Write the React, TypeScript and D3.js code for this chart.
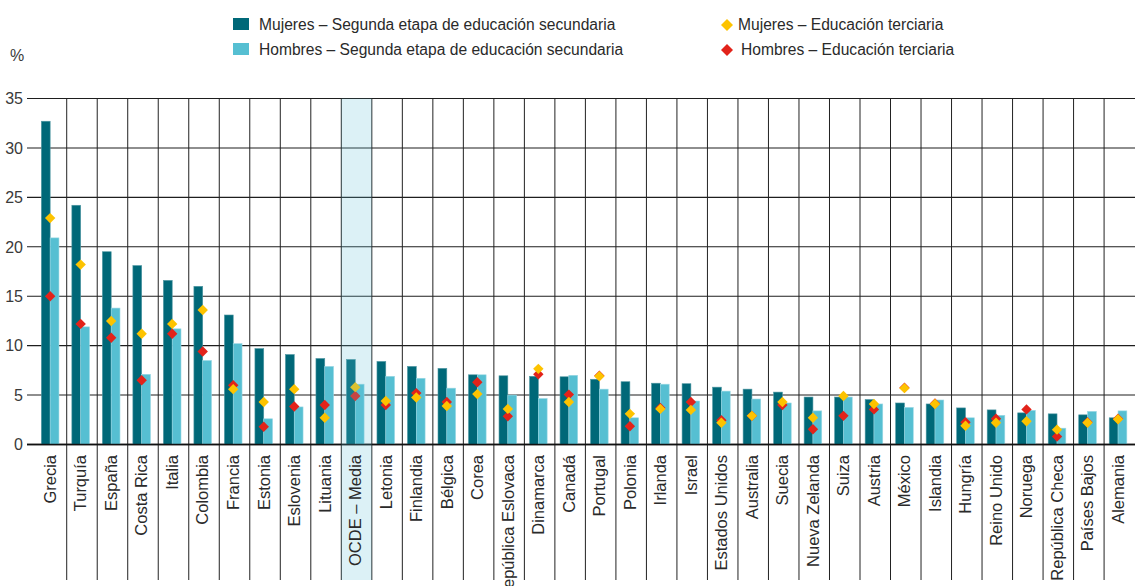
import React from "react";
import * as d3 from "d3";

const categories = ["Grecia","Turquía","España","Costa Rica","Italia","Colombia","Francia","Estonia","Eslovenia","Lituania","OCDE – Media","Letonia","Finlandia","Bélgica","Corea","República Eslovaca","Dinamarca","Canadá","Portugal","Polonia","Irlanda","Israel","Estados Unidos","Australia","Suecia","Nueva Zelanda","Suiza","Austria","México","Islandia","Hungría","Reino Unido","Noruega","República Checa","Países Bajos","Alemania"];

const mujeresSecundaria = [32.7,24.2,19.5,18.1,16.6,16.0,13.1,9.7,9.1,8.7,8.6,8.4,7.9,7.7,7.05,6.95,6.9,6.85,6.6,6.35,6.2,6.15,5.8,5.6,5.3,4.8,4.8,4.55,4.2,4.1,3.7,3.5,3.2,3.1,3.0,2.7];
const hombresSecundaria = [20.9,11.9,13.8,7.1,11.7,8.5,10.2,2.6,3.8,7.9,6.1,6.9,6.7,5.7,7.05,5.0,4.65,7.0,5.6,2.7,6.1,4.4,5.4,4.6,4.2,3.4,4.8,4.1,3.75,4.5,2.7,2.95,3.45,1.65,3.35,3.4];
const mujeresTerciaria = [22.9,18.2,12.5,11.2,12.2,13.6,5.6,4.3,5.6,2.7,5.8,4.4,4.75,3.9,5.1,3.6,7.65,4.3,6.9,3.1,3.6,3.5,2.2,2.9,4.3,2.7,4.9,4.1,5.7,4.1,1.9,2.2,2.35,1.5,2.2,2.55];
const hombresTerciaria = [15.0,12.2,10.8,6.5,11.2,9.4,6.0,1.8,3.85,4.0,4.9,4.0,5.2,4.3,6.3,2.85,7.1,5.05,6.95,1.85,3.7,4.3,2.45,2.9,4.0,1.55,2.9,3.55,5.75,4.15,2.25,2.6,3.55,0.8,2.25,2.6];
const yTicks = [0,5,10,15,20,25,30,35];
const highlight = "OCDE – Media";

const legendItems = [
  { label: "Mujeres – Segunda etapa de educación secundaria", kind: "rect", color: "#006878" },
  { label: "Hombres – Segunda etapa de educación secundaria", kind: "rect", color: "#56bfd2" },
  { label: "Mujeres – Educación terciaria", kind: "diamond", color: "#fdc300" },
  { label: "Hombres – Educación terciaria", kind: "diamond", color: "#e2231a" },
];

const W = 1135, H = 586;
const FONT = "'Liberation Sans', Arial, sans-serif";
const NARROW = "'Liberation Sans Narrow', 'Liberation Sans', Arial, sans-serif";
const TEXT = "#2a2a2a";

export default function App() {
  const x = d3.scaleBand<string>().domain(categories).range([36.2, 1134.6]).padding(0);
  const y = d3.scaleLinear().domain([0, 35]).range([444.5, 98.5]);
  const bw = x.bandwidth();
  const gc = (c: string) => (x(c) as number) + bw / 2 - 1.3;
  const barW = 8.8;
  const diamond = (r: number) => `M0,${-r}L${r},0L0,${r}L${-r},0Z`;
  const bottom = 580;

  return (
    <div style={{ position: "absolute", left: 0, top: 0 }}>
      <svg width={W} height={H} style={{ display: "block", background: "#fff" }}>
        {yTicks.map((t) => (
          <g key={t}>
            <line x1={27} x2={W} y1={y(t)} y2={y(t)} stroke="#1e1e1e" strokeWidth={t === 0 ? 1.4 : 1.1} />
            <text x={23} y={y(t)} dy="0.36em" textAnchor="end" fontFamily={NARROW} fontSize={16} fill="#3a3a3a">{t}</text>
          </g>
        ))}
        <text x={10} y={61} fontFamily={NARROW} fontSize={16} fill="#3a3a3a">%</text>

        {categories.slice(1).map((c) => (
          <line key={c} x1={x(c) as number} x2={x(c) as number} y1={y(35)} y2={bottom} stroke="#222" strokeWidth={1} />
        ))}

        {categories.map((c, i) => (
          <g key={c}>
            <rect x={gc(c) - barW} y={y(mujeresSecundaria[i])} width={barW} height={y(0) - y(mujeresSecundaria[i])} fill="#006878" stroke="#4f97a2" strokeWidth={0.6} />
            <rect x={gc(c)} y={y(hombresSecundaria[i])} width={barW} height={y(0) - y(hombresSecundaria[i])} fill="#56bfd2" stroke="#9bd8e4" strokeWidth={0.6} />
          </g>
        ))}
        {categories.map((c, i) => (
          <path key={c} d={diamond(5.2)} transform={`translate(${gc(c)},${y(hombresTerciaria[i])})`} fill="#e2231a" />
        ))}
        {categories.map((c, i) => (
          <path key={c} d={diamond(5.2)} transform={`translate(${gc(c)},${y(mujeresTerciaria[i])})`} fill="#fdc300" />
        ))}

        <line x1={27} x2={W} y1={y(0)} y2={y(0)} stroke="#111" strokeWidth={1.4} />

        <rect x={x(highlight) as number} y={y(35)} width={bw} height={bottom - y(35)} fill="#5fbfd6" opacity={0.22} />

        {categories.map((c) => (
          <text key={c} transform={`translate(${gc(c)},455) rotate(-90)`} textAnchor="end" dy="0.35em" fontFamily={FONT} fontSize={16.5} fill={TEXT}>{c}</text>
        ))}

        {legendItems.map((it, i) => {
          const row = i % 2;
          const by = 30 + row * 25;
          if (it.kind === "rect") {
            return (
              <g key={it.label}>
                <rect x={233} y={by - 12} width={16} height={12} fill={it.color} />
                <text x={259} y={by} fontFamily={FONT} fontSize={15.6} fill={TEXT}>{it.label}</text>
              </g>
            );
          }
          return (
            <g key={it.label}>
              <path d={diamond(6)} transform={`translate(${727},${by - 5})`} fill={it.color} />
              <text x={738 + row * 3} y={by} fontFamily={FONT} fontSize={15.6} fill={TEXT}>{it.label}</text>
            </g>
          );
        })}
      </svg>
    </div>
  );
}
